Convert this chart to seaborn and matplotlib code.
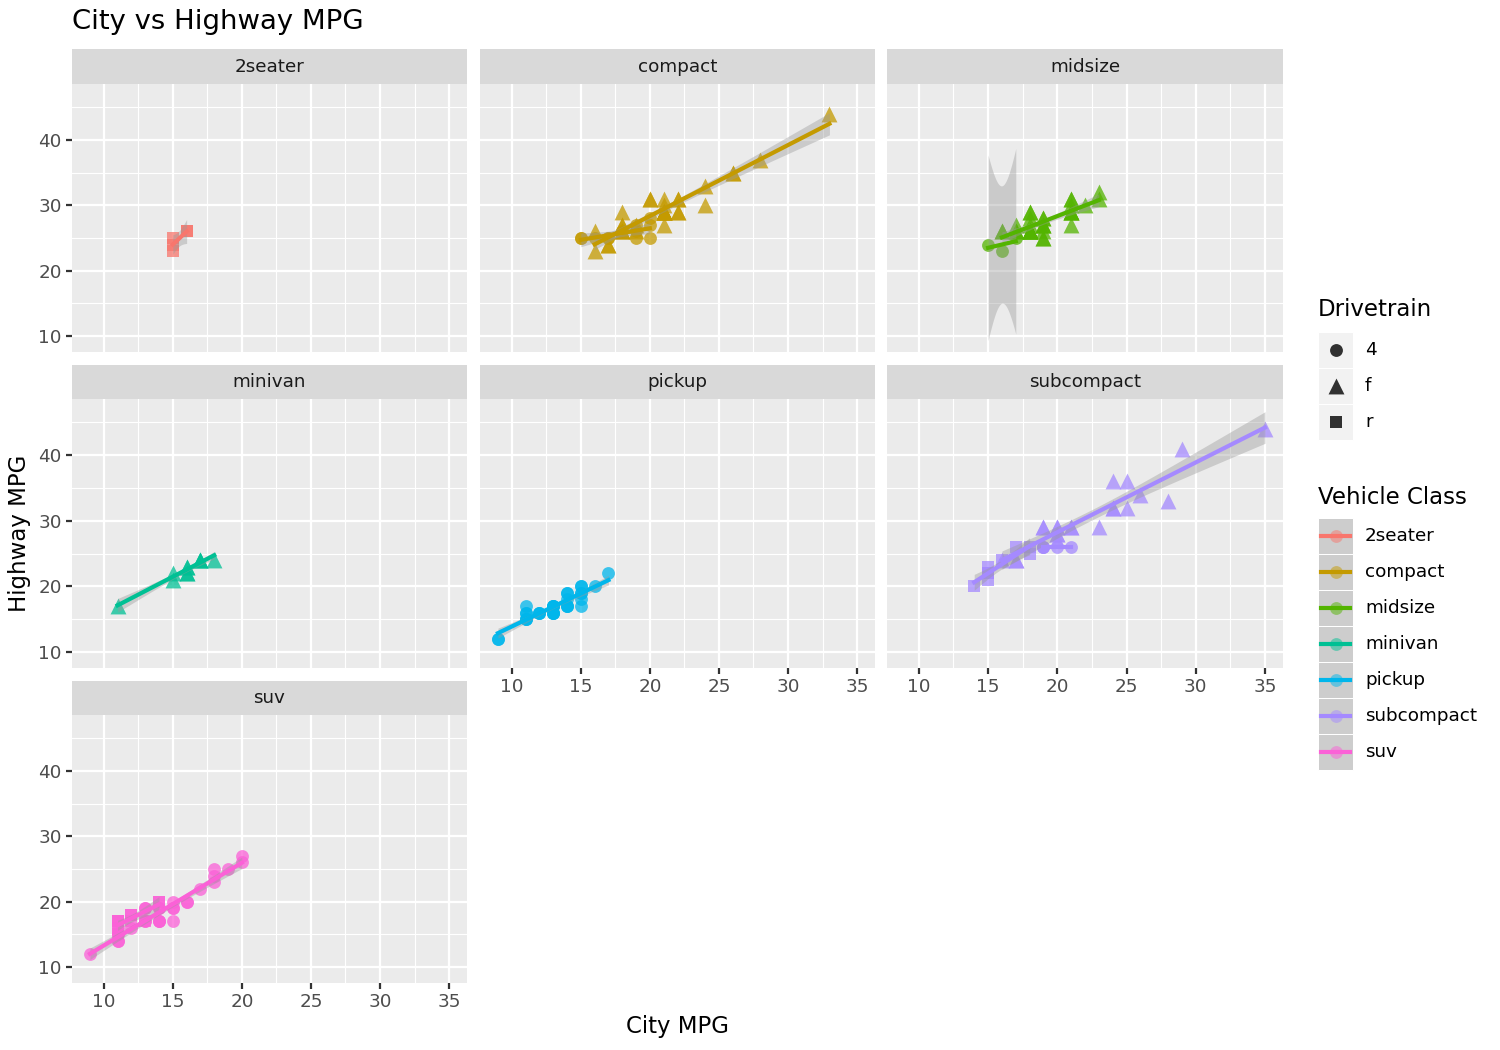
import math
import numpy as np
import pandas as pd
import matplotlib
matplotlib.use("Agg")
import matplotlib.pyplot as plt
import seaborn as sns
from matplotlib.patches import Rectangle

# values: city mpg, highway mpg, drivetrain per vehicle class
twoseater_cty = [16, 15, 16, 15, 15]
twoseater_hwy = [26, 23, 26, 25, 24]
twoseater_drv = ["r"] * 5

compact_cty = [18, 16, 20, 19, 15, 17, 17, 15, 19, 20, 20, 19,
               18, 21, 20, 21, 16, 18, 18, 18, 21, 21, 22, 18, 18,
               24, 24, 26, 28, 26, 33, 21, 19, 22, 21, 21, 16, 17, 21,
               21, 19, 21, 22, 17, 20, 22]
compact_hwy = [26, 25, 28, 27, 25, 25, 25, 25, 25, 25, 27, 26,
               29, 29, 31, 30, 26, 26, 27, 26, 29, 31, 31, 27, 26,
               30, 33, 35, 37, 35, 44, 29, 26, 29, 29, 29, 23, 24, 29,
               29, 27, 27, 29, 24, 31, 31]
compact_drv = ["4"] * 12 + ["f"] * 34

midsize_cty = [15, 17, 16,
               19, 22, 18, 18, 17, 18, 18, 21, 21, 18, 18, 19, 19, 19, 23,
               18, 19, 19, 18, 16, 17, 18, 21, 21, 21, 21, 18, 19, 21, 16,
               18, 17, 23, 19, 21]
midsize_hwy = [24, 25, 23,
               27, 30, 26, 29, 26, 26, 27, 30, 31, 26, 26, 28, 27, 26, 32,
               26, 25, 25, 26, 26, 27, 28, 29, 27, 31, 29, 29, 28, 29, 26,
               26, 26, 31, 27, 29]
midsize_drv = ["4"] * 3 + ["f"] * 35

minivan_cty = [18, 17, 16, 16, 17, 17, 11, 15, 15, 16, 16]
minivan_hwy = [24, 24, 22, 22, 24, 24, 17, 22, 21, 23, 23]
minivan_drv = ["f"] * 11

pickup_cty = [15, 14, 13, 14, 14, 14, 9, 11, 11,
              11, 13, 12, 12, 11, 11, 12, 9, 13, 11,
              13, 13, 13, 14, 14, 13, 13,
              15, 16, 15, 15, 15, 17, 15]
pickup_hwy = [19, 18, 17, 17, 19, 19, 12, 17, 15,
              16, 17, 16, 16, 15, 16, 16, 12, 17, 15,
              16, 16, 17, 17, 17, 16, 16,
              20, 20, 17, 19, 18, 22, 20]
pickup_drv = ["4"] * 33

subcompact_cty = [28, 24, 25, 23, 24, 26, 25, 24, 21,
                  19, 20, 20, 17, 16, 17, 20,
                  35, 29, 21, 20, 20, 19,
                  18, 18, 17, 16, 15, 15, 15, 15, 14,
                  19, 19, 20, 21, 19]
subcompact_hwy = [33, 32, 32, 29, 32, 34, 36, 36, 29,
                  29, 28, 27, 24, 24, 24, 29,
                  44, 41, 29, 28, 29, 29,
                  26, 25, 26, 24, 21, 22, 23, 22, 20,
                  26, 26, 26, 26, 26]
subcompact_drv = ["f"] * 22 + ["r"] * 9 + ["4"] * 5

suv_cty = [9, 11, 11, 11, 13, 13, 14, 14, 15, 15, 15, 16, 17, 18, 18, 18,
           19, 20, 20, 13, 11, 14, 15, 13, 14, 16, 14, 12, 11,
           14, 11, 14, 13, 12, 11, 11, 12, 11, 12, 11]
suv_hwy = [12, 14, 15, 16, 19, 17, 17, 19, 17, 19, 20, 20, 22, 25, 24, 23,
           25, 27, 26, 17, 15, 17, 19, 19, 19, 20, 17, 16, 14,
           20, 15, 20, 17, 17, 17, 17, 18, 17, 18, 16]
suv_drv = ["4"] * 29 + ["r"] * 11

classes = ["2seater", "compact", "midsize", "minivan", "pickup", "subcompact", "suv"]
class_colors = ["#F8766D", "#C49A00", "#53B400", "#00C094", "#00B6EB", "#A58AFF", "#FB61D7"]
drv_levels = ["4", "f", "r"]

frames = []
for name, c, h, d in [
    ("2seater", twoseater_cty, twoseater_hwy, twoseater_drv),
    ("compact", compact_cty, compact_hwy, compact_drv),
    ("midsize", midsize_cty, midsize_hwy, midsize_drv),
    ("minivan", minivan_cty, minivan_hwy, minivan_drv),
    ("pickup", pickup_cty, pickup_hwy, pickup_drv),
    ("subcompact", subcompact_cty, subcompact_hwy, subcompact_drv),
    ("suv", suv_cty, suv_hwy, suv_drv),
]:
    frames.append(pd.DataFrame({"cty": c, "hwy": h, "drv": d, "cls": name}))
mpg = pd.concat(frames, ignore_index=True)

markers = {"4": "o", "f": "^", "r": "s"}
msizes = {"4": 38, "f": 58, "r": 38}


def t_quantile(df, p=0.975):
    # two-sided t critical value by bisection on a numerically integrated pdf
    c = math.exp(math.lgamma((df + 1) / 2) - math.lgamma(df / 2)) / math.sqrt(df * math.pi)
    def cdf_half(t):
        g = np.linspace(0, t, 40001)
        return np.trapezoid(c * (1 + g ** 2 / df) ** (-(df + 1) / 2), g)
    lo, hi = 0.0, 200.0
    for _ in range(60):
        mid = (lo + hi) / 2
        if cdf_half(mid) < p - 0.5:
            lo = mid
        else:
            hi = mid
    return (lo + hi) / 2


def lm_band(x, y, n_grid=80):
    x = np.asarray(x, float)
    y = np.asarray(y, float)
    n = len(x)
    b, a = np.polyfit(x, y, 1)
    gx = np.linspace(x.min(), x.max(), n_grid)
    fit = a + b * gx
    resid = y - (a + b * x)
    s = math.sqrt((resid ** 2).sum() / (n - 2))
    sxx = ((x - x.mean()) ** 2).sum()
    se = s * np.sqrt(1 / n + (gx - x.mean()) ** 2 / sxx)
    t = t_quantile(n - 2)
    return gx, fit - t * se, fit + t * se


W, H = 1500, 1050
fig = plt.figure(figsize=(10, 7), dpi=150)
plt.rcParams["font.family"] = ["DejaVu Sans"]


def box(x0, y0, x1, y1):
    return [x0 / W, 1 - y1 / H, (x1 - x0) / W, (y1 - y0) / H]


col_x = [(72, 467), (480, 875), (887, 1283)]
row_y = [(49, 84, 352), (365, 399, 668), (681, 715, 983)]

for i, cls in enumerate(classes):
    r, cidx = divmod(i, 3)
    x0, x1 = col_x[cidx]
    s0, p0, p1 = row_y[r]
    color = class_colors[i]

    sax = fig.add_axes(box(x0, s0, x1, p0))
    sax.set_facecolor("#D9D9D9")
    sax.set_xticks([])
    sax.set_yticks([])
    for sp in sax.spines.values():
        sp.set_visible(False)
    sax.text(0.5, 0.5, cls, ha="center", va="center", fontsize=8.8, color="#1A1A1A",
             transform=sax.transAxes)

    ax = fig.add_axes(box(x0, p0, x1, p1))
    ax.set_facecolor("#EBEBEB")
    for sp in ax.spines.values():
        sp.set_visible(False)
    ax.set_xlim(7.7, 36.3)
    ax.set_ylim(7.55, 48.57)
    ax.set_xticks([10, 15, 20, 25, 30, 35])
    ax.set_xticks([12.5, 17.5, 22.5, 27.5, 32.5], minor=True)
    ax.set_yticks([10, 20, 30, 40])
    ax.set_yticks([15, 25, 35, 45], minor=True)
    ax.grid(which="major", color="white", linewidth=1.07)
    ax.grid(which="minor", color="white", linewidth=0.53)
    ax.set_axisbelow(True)
    ax.tick_params(which="minor", length=0)
    ax.tick_params(which="major", length=2.75, width=1.07, color="#333333",
                   labelcolor="#4D4D4D", labelsize=8.8, pad=2.2)

    show_x = cls in ("pickup", "subcompact", "suv")
    show_y = cidx == 0
    ax.tick_params(axis="x", bottom=show_x, labelbottom=show_x)
    ax.tick_params(axis="y", left=show_y, labelleft=show_y)

    sub = mpg[mpg["cls"] == cls]
    for d in drv_levels:
        pts = sub[sub["drv"] == d]
        if len(pts) == 0:
            continue
        sns.scatterplot(data=pts, x="cty", y="hwy", marker=markers[d], s=msizes[d],
                        color=color, alpha=0.75, linewidth=0, legend=False, ax=ax)
    for d in drv_levels:
        pts = sub[sub["drv"] == d]
        if len(pts) < 3:
            continue
        gx, lo, hi = lm_band(pts["cty"], pts["hwy"])
        ax.fill_between(gx, lo, hi, color="#999999", alpha=0.4, linewidth=0, zorder=3)
        sns.regplot(data=pts, x="cty", y="hwy", scatter=False, ci=None, truncate=True,
                    line_kws=dict(color=color, linewidth=2.0, zorder=4), ax=ax)
    ax.set_xlabel("")
    ax.set_ylabel("")

fig.text(72 / W, 1 - 22 / H, "City vs Highway MPG", fontsize=13.2, ha="left", va="center",
         color="black")
fig.text(677 / W, 1 - 1026 / H, "City MPG", fontsize=11, ha="center", va="center")
fig.text(20 / W, 1 - 533 / H, "Highway MPG", fontsize=11, ha="center", va="center",
         rotation=90)

# legends drawn in pixel space on an overlay
lax = fig.add_axes([0, 0, 1, 1], facecolor="none")
lax.set_xlim(0, W)
lax.set_ylim(H, 0)
lax.axis("off")

lax.text(1318, 310, "Drivetrain", fontsize=11, ha="left", va="center")
for k, d in enumerate(drv_levels):
    top = 332 + 36 * k
    lax.add_patch(Rectangle((1318, top), 35, 36, facecolor="#F2F2F2", edgecolor="white",
                            linewidth=0.5))
    lax.scatter([1335.5], [top + 18], marker=markers[d], s=msizes[d], color="black",
                alpha=0.8, linewidth=0)
    lax.text(1365, top + 18, d, fontsize=8.8, ha="left", va="center")

lax.text(1318, 497, "Vehicle Class", fontsize=11, ha="left", va="center")
for k, cls in enumerate(classes):
    top = 518 + 36 * k
    lax.add_patch(Rectangle((1318, top), 35, 36, facecolor="#CDCDCD", edgecolor="white",
                            linewidth=0.5))
    lax.plot([1321, 1350], [top + 18, top + 18], color=class_colors[k], linewidth=2.0)
    lax.scatter([1335.5], [top + 18], marker="o", s=38, color=class_colors[k], alpha=0.5,
                linewidth=0)
    lax.text(1365, top + 18, cls, fontsize=8.8, ha="left", va="center")

fig.savefig("out.png", dpi=150)
